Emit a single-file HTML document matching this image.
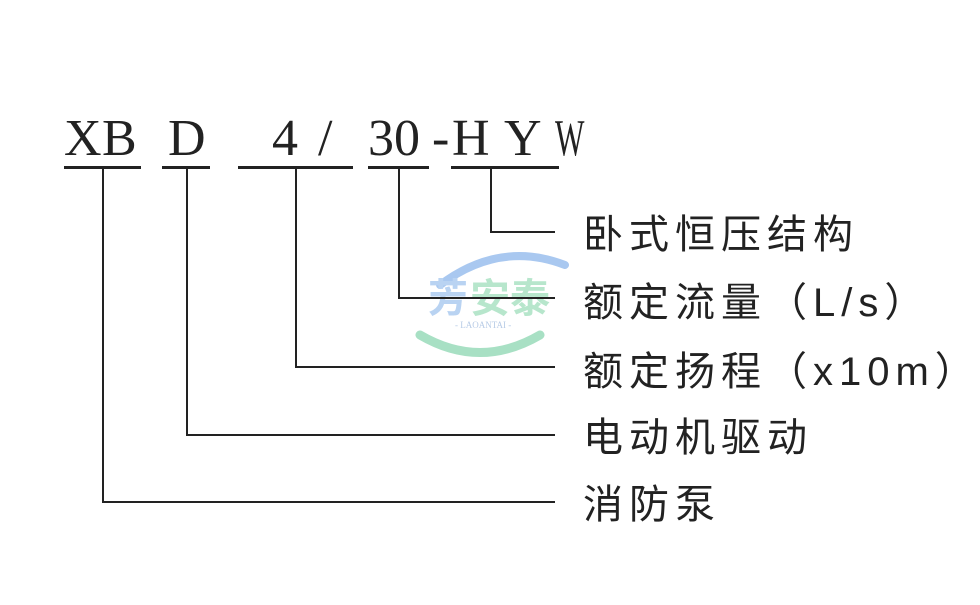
<!DOCTYPE html>
<html><head><meta charset="utf-8"><style>
html,body{margin:0;padding:0;background:#fff;}
#c{position:relative;width:980px;height:605px;overflow:hidden;background:#fff;}
.t{position:absolute;font-family:"Liberation Serif",serif;font-size:52px;color:#222;line-height:1;}
.l{position:absolute;background:#222;}
.z{position:absolute;left:583px;font-family:"Liberation Sans","Noto Sans CJK SC",sans-serif;font-size:40px;color:#222;line-height:1;letter-spacing:6px;white-space:nowrap;}
</style></head><body><div id="c">
<svg style="position:absolute;left:0;top:0" width="980" height="605">
<path d="M440 285 Q500 240 565 265" stroke="#a9c8f0" stroke-width="8" fill="none" stroke-linecap="round"/>
<path d="M420 335 Q480 370 540 335" stroke="#a8e0c4" stroke-width="9" fill="none" stroke-linecap="round"/>
<text x="428" y="312" font-family="Noto Sans CJK SC,sans-serif" font-size="40" font-weight="bold" fill="#b9d3f2">芳</text>
<text x="470" y="312" font-family="Noto Sans CJK SC,sans-serif" font-size="40" font-weight="bold" fill="#b7e6cc">安泰</text>
<text x="455" y="328" font-family="Liberation Serif,serif" font-size="9" fill="#b7cbe6">- LAOANTAI -</text>
</svg>
<span class="t" style="left:64px;top:113px">X</span>
<span class="t" style="left:102px;top:113px">B</span>
<span class="t" style="left:168px;top:113px">D</span>
<span class="t" style="left:272px;top:113px">4</span>
<span class="t" style="left:318px;top:113px">/</span>
<span class="t" style="left:368px;top:113px">30</span>
<span class="t" style="left:432px;top:113px">-</span>
<span class="t" style="left:452px;top:113px">H</span>
<span class="t" style="left:504px;top:113px">Y</span>
<span class="t" style="left:555px;top:113px;transform:scaleX(0.6);transform-origin:left">W</span>

<div class="l" style="left:64px;top:166px;width:77px;height:3px"></div>
<div class="l" style="left:162px;top:166px;width:48px;height:3px"></div>
<div class="l" style="left:238px;top:166px;width:115px;height:3px"></div>
<div class="l" style="left:368px;top:166px;width:61px;height:3px"></div>
<div class="l" style="left:451px;top:166px;width:108px;height:3px"></div>

<div class="l" style="left:102px;top:168px;width:2px;height:335px"></div>
<div class="l" style="left:102px;top:501px;width:453px;height:2px"></div>
<div class="l" style="left:186px;top:168px;width:2px;height:268px"></div>
<div class="l" style="left:186px;top:434px;width:369px;height:2px"></div>
<div class="l" style="left:295px;top:168px;width:2px;height:200px"></div>
<div class="l" style="left:295px;top:366px;width:260px;height:2px"></div>
<div class="l" style="left:398px;top:168px;width:2px;height:131px"></div>
<div class="l" style="left:398px;top:297px;width:157px;height:2px"></div>
<div class="l" style="left:490px;top:168px;width:2px;height:65px"></div>
<div class="l" style="left:490px;top:231px;width:65px;height:2px"></div>

<span class="z" style="top:215px">卧式恒压结构</span>
<span class="z" style="top:283px">额定流量（L/s）</span>
<span class="z" style="top:352px">额定扬程（x10m）</span>
<span class="z" style="top:418px">电动机驱动</span>
<span class="z" style="top:485px">消防泵</span>
</div></body></html>
